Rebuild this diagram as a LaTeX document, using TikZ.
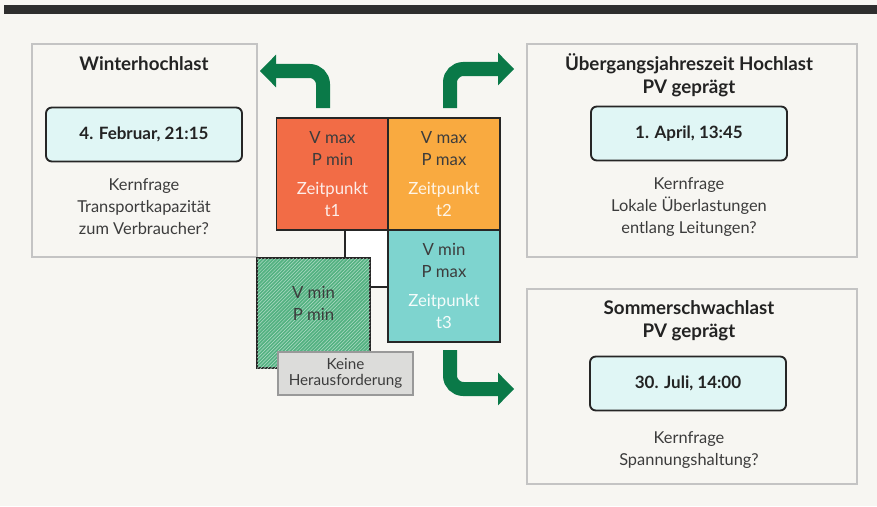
\documentclass[tikz,border=0pt]{standalone}
\usepackage{fontspec}
\setmainfont{Lato}
\usetikzlibrary{arrows.meta,patterns}

\definecolor{paper}{RGB}{247,246,242}
\definecolor{topbar}{RGB}{46,46,46}
\definecolor{panelgray}{RGB}{196,196,196}
\definecolor{datecyan}{RGB}{224,246,245}
\definecolor{inkgray}{RGB}{60,60,60}
\definecolor{titleink}{RGB}{35,35,35}
\definecolor{redsq}{RGB}{242,108,70}
\definecolor{orangesq}{RGB}{249,170,64}
\definecolor{tealsq}{RGB}{126,212,207}
\definecolor{greensq}{RGB}{84,178,130}
\definecolor{arrowgreen}{RGB}{10,121,72}
\definecolor{keinegray}{RGB}{220,220,218}

\tikzset{
  panel/.style={draw=panelgray, line width=1.2pt},
  paneltitle/.style={align=center, text=titleink, font=\fontsize{16}{19.5}\selectfont\bfseries},
  datebox/.style={draw=black!85, fill=datecyan, rounded corners=5pt, line width=1.6pt,
    minimum width=5.88cm, minimum height=1.62cm, text=titleink, font=\fontsize{14.5}{16}\selectfont\bfseries},
  question/.style={align=center, text=inkgray, font=\fontsize{14}{18.7}\selectfont},
  timesq/.style={draw=black!85, line width=1.4pt, minimum width=3.36cm, minimum height=3.36cm,
    align=center, text=inkgray, font=\fontsize{14.3}{18.7}\selectfont},
  greenarrow/.style={draw=arrowgreen, line width=0.42cm, rounded corners=0.4cm,
    -{Triangle[length=0.48cm,width=0.98cm,line width=0pt]}}
}

\begin{document}
\begin{tikzpicture}[x=0.03cm,y=-0.03cm]

\fill[paper] (0,0) rectangle (877,506);
\useasboundingbox (0,0) rectangle (877,506);
\fill[topbar] (4,5) rectangle (877,14);

\draw[panel] (32,44) rectangle (257,257);
\draw[panel] (527,44) rectangle (857,257);
\draw[panel] (527,289) rectangle (857,484);

\node[paneltitle] (winter) at (144,64) {Winterhochlast};
\node[datebox] (winterdate) at (144,134.5) {4. Februar, 21:15};
\node[question] (winterq) at (144,207) {Kernfrage\\Transportkapazität\\zum Verbraucher?};

\node[paneltitle] (uebergang) at (689,75) {Übergangsjahreszeit Hochlast\\PV geprägt};
\node[datebox] (uebergangdate) at (689,133.5) {1. April, 13:45};
\node[question] (uebergangq) at (689,207) {Kernfrage\\Lokale Überlastungen\\entlang Leitungen?};

\node[paneltitle] (sommer) at (689,321) {Sommerschwachlast\\PV geprägt};
\node[datebox] (sommerdate) at (688,383.5) {30. Juli, 14:00};
\node[question] (sommerq) at (689,450) {Kernfrage\\Spannungshaltung?};

\draw[fill=white, draw=black!85, line width=1.4pt] (345,230) rectangle (388,287);

\node[timesq, fill=redsq] (t1) at (332.5,174) {V max\\P min\\[0.21cm]{\color{white!88!redsq}Zeitpunkt}\\{\color{white!88!redsq}t1}};
\node[timesq, fill=orangesq] (t2) at (444,174) {V max\\P max\\[0.21cm]{\color{white!88!orangesq}Zeitpunkt}\\{\color{white!88!orangesq}t2}};
\node[timesq, fill=tealsq] (t3) at (444,286) {V min\\P max\\[0.21cm]{\color{white!92!tealsq}Zeitpunkt}\\{\color{white!92!tealsq}t3}};

\node[timesq, fill=greensq, minimum width=3.39cm, minimum height=3.3cm,
  postaction={pattern=north east lines, pattern color=white!55!greensq}] (t0) at (313.5,313) {};
\node[align=center, text=inkgray, font=\fontsize{14.3}{18.7}\selectfont] (t0text) at ([yshift=0.29cm]t0.center) {V min\\P min};

\node[draw=black!40, fill=keinegray, line width=1pt, minimum width=4.05cm, minimum height=1.29cm,
  align=center, text=inkgray, font=\fontsize{13}{13.6}\selectfont] (keine) at (345.5,373.5) {Keine\\Herausforderung};

\coordinate (a1s) at (323,108);
\coordinate (a1e) at (260,71);
\coordinate (a2s) at (450,108);
\coordinate (a2e) at (514,69);
\coordinate (a3s) at (450,350);
\coordinate (a3e) at (514,389);

\draw[greenarrow] (a1s) |- (a1e);
\draw[greenarrow] (a2s) |- (a2e);
\draw[greenarrow] (a3s) |- (a3e);

\end{tikzpicture}
\end{document}
